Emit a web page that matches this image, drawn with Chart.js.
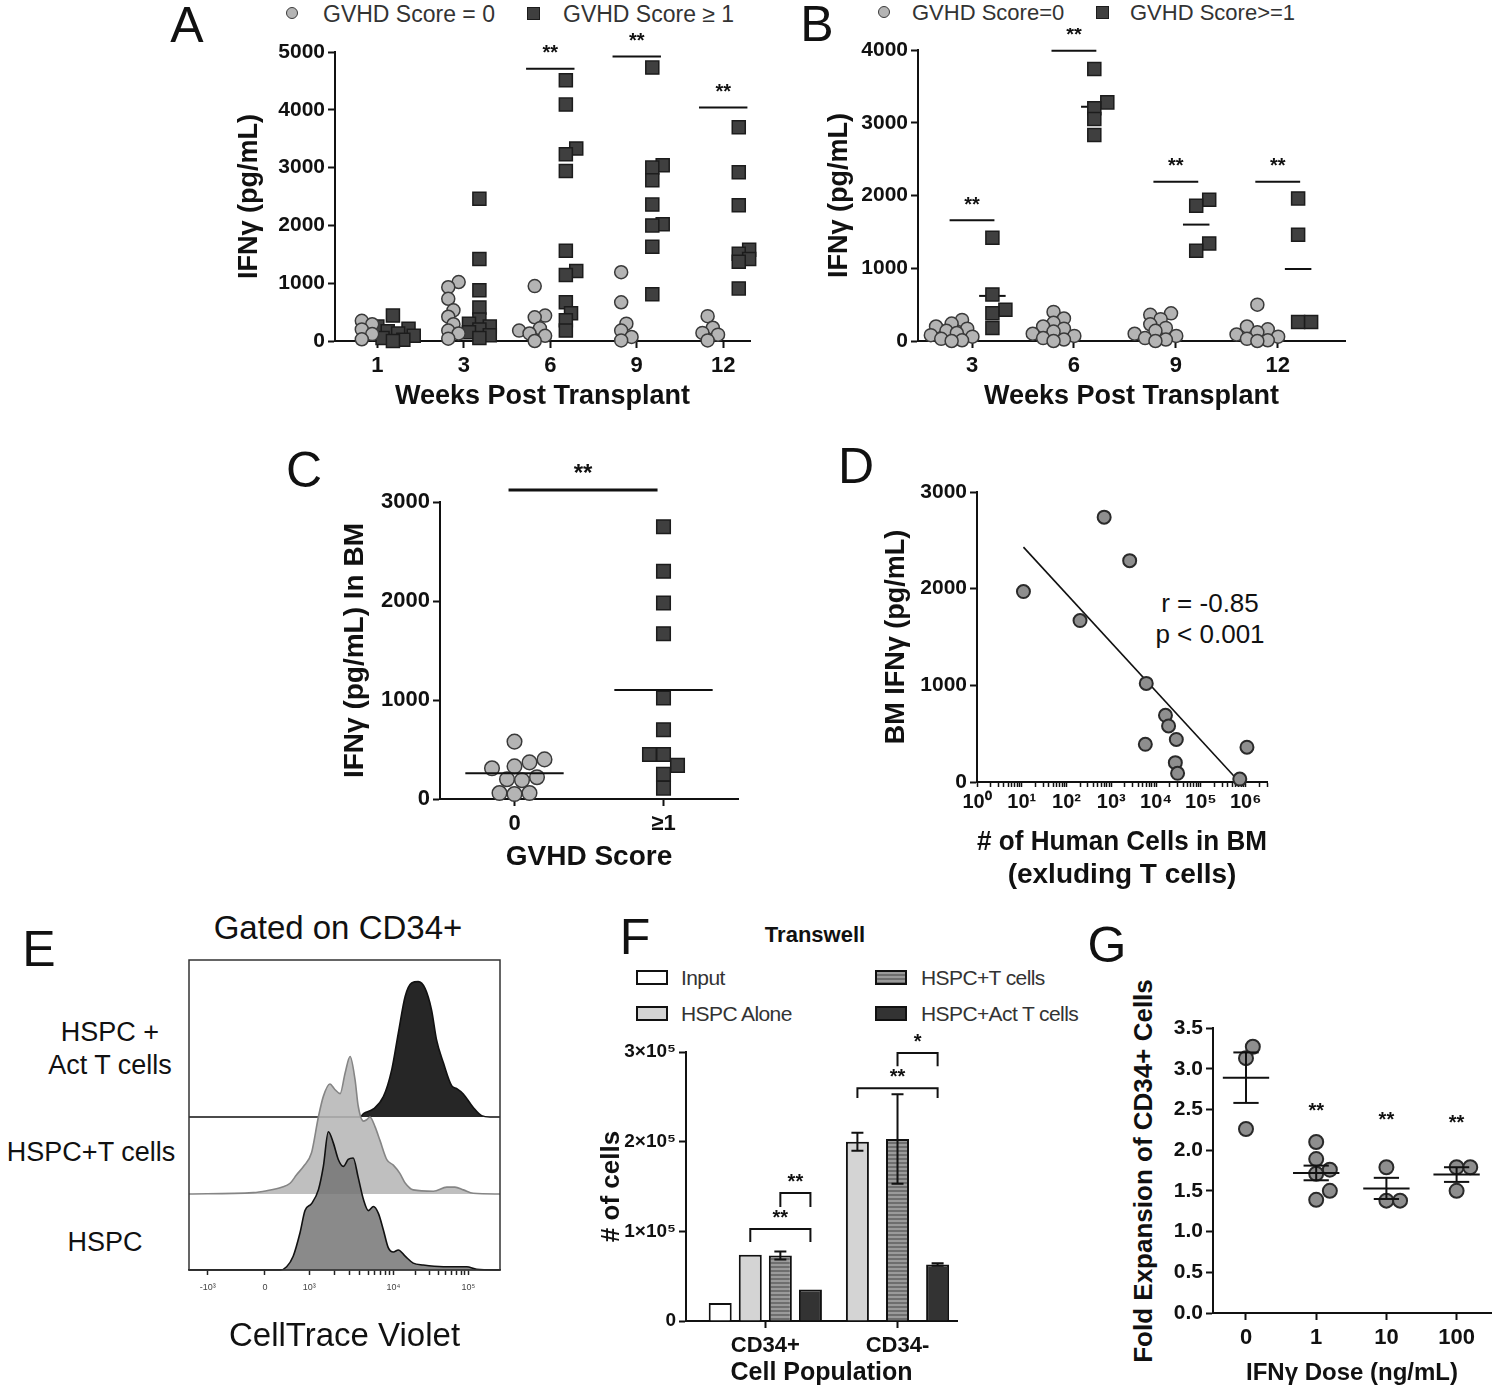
<!DOCTYPE html>
<html><head><meta charset="utf-8">
<script src="https://cdn.jsdelivr.net/npm/chart.js@4.4.1/dist/chart.umd.min.js"></script>
<style>
html,body{margin:0;padding:0;background:#fff;}
#fig{position:relative;width:1500px;height:1394px;overflow:hidden;background:#fff;font-family:'Liberation Sans',Arial,sans-serif;color:#111;}
canvas{position:absolute;}
.t{position:absolute;white-space:nowrap;line-height:1;transform:translate(-50%,-50%);}
.tl{position:absolute;white-space:nowrap;line-height:1;transform:translate(0,-50%);}
.rot{position:absolute;white-space:nowrap;line-height:1;transform:translate(-50%,-50%) rotate(-90deg);font-weight:bold;}
.lbl{font-size:50px;}
.leg{font-size:23px;color:#333;}
.mk{position:absolute;box-sizing:border-box;}
.circ{width:12px;height:12px;border-radius:50%;background:#b4b4b4;border:1.5px solid #3a3a3a;}
.sq{width:13px;height:13px;background:#3f3f3f;border:1.5px solid #1c1c1c;}
.fbox{position:absolute;width:32px;height:15px;box-sizing:border-box;border:2px solid #111;}
.fleg{font-size:21px;color:#333;letter-spacing:-0.6px;}
</style></head>
<body><div id="fig">
<div class="t lbl" style="left:187px;top:25px">A</div>
<div class="t lbl" style="left:817px;top:24px">B</div>
<div class="t lbl" style="left:304px;top:470px">C</div>
<div class="t lbl" style="left:856px;top:466px">D</div>
<div class="t lbl" style="left:39px;top:949px">E</div>
<div class="t lbl" style="left:635px;top:937px">F</div>
<div class="t lbl" style="left:1107px;top:945px">G</div>

<div class="mk circ" style="left:286px;top:7px"></div>
<div class="tl leg" style="left:323px;top:14px">GVHD Score = 0</div>
<div class="mk sq" style="left:527px;top:7px"></div>
<div class="tl leg" style="left:563px;top:14px">GVHD Score ≥ 1</div>

<div class="mk circ" style="left:878px;top:6px"></div>
<div class="tl leg" style="left:912px;top:13px;font-size:22px">GVHD Score=0</div>
<div class="mk sq" style="left:1096px;top:6px"></div>
<div class="tl leg" style="left:1130px;top:13px;font-size:22px">GVHD Score&gt;=1</div>

<div class="t" style="left:1210px;top:603px;font-size:26px">r = -0.85</div>
<div class="t" style="left:1210px;top:634px;font-size:26px">p &lt; 0.001</div>

<div class="t" style="left:338px;top:927px;font-size:33px">Gated on CD34+</div>
<div class="t" style="left:110px;top:1032px;font-size:27px">HSPC +</div>
<div class="t" style="left:110px;top:1065px;font-size:27px">Act T cells</div>
<div class="t" style="left:91px;top:1152px;font-size:27px">HSPC+T cells</div>
<div class="t" style="left:105px;top:1242px;font-size:27px">HSPC</div>

<div class="t" style="left:815px;top:935px;font-size:22px;font-weight:bold">Transwell</div>
<div class="fbox" style="left:636px;top:970px;background:#fff"></div>
<div class="tl fleg" style="left:681px;top:977px">Input</div>
<div class="fbox" style="left:636px;top:1006px;background:#d4d4d4"></div>
<div class="tl fleg" style="left:681px;top:1013px">HSPC Alone</div>
<div class="fbox" style="left:875px;top:970px;background:repeating-linear-gradient(#9a9a9a 0 2px,#6e6e6e 2px 4px)"></div>
<div class="tl fleg" style="left:921px;top:977px">HSPC+T cells</div>
<div class="fbox" style="left:875px;top:1006px;background:#333"></div>
<div class="tl fleg" style="left:921px;top:1013px">HSPC+Act T cells</div>

<div class="rot" style="left:1143px;top:1171px;font-size:26px">Fold Expansion of CD34+ Cells</div>

<canvas id="cA"></canvas><canvas id="cB"></canvas><canvas id="cC"></canvas><canvas id="cD"></canvas>
<canvas id="cE"></canvas><canvas id="cF"></canvas><canvas id="cG"></canvas>
</div>
<script>
// ================= DATA =================
// Panel A: IFNγ (pg/mL) by week post transplant
const A_WEEKS = ['1', '3', '6', '9', '12'];
const A_SCORE0 = [
  [350, 290, 200, 120, 30],
  [1020, 930, 730, 530, 420, 290, 180, 130, 40],
  [950, 440, 410, 220, 180, 130, 90, 0],
  [1190, 670, 300, 180, 70, 10],
  [430, 230, 140, 110, 10]
];
const A_SCORE1 = [
  [440, 250, 210, 170, 130, 90, 50, 20, 0],
  [2460, 1420, 880, 580, 370, 300, 250, 200, 150, 100, 50],
  [4510, 4090, 3330, 3230, 2940, 1560, 1210, 1140, 670, 480, 360, 180],
  [4730, 3040, 3000, 2780, 2360, 2020, 2000, 1630, 810],
  [3700, 2920, 2350, 1580, 1510, 1420, 1370, 910]
];
const A_SIG_INDEX = [2, 3, 4];
const A_SIG_Y = [4710, 4920, 4040];
const A_SIG_TEXT = ['**', '**', '**'];

// Panel B
const B_WEEKS = ['3', '6', '9', '12'];
const B_SCORE0 = [
  [290, 240, 200, 170, 140, 110, 80, 60, 30, 10, 0],
  [400, 310, 250, 200, 170, 130, 100, 70, 40, 20, 0],
  [380, 360, 300, 230, 180, 140, 100, 70, 40, 20, 0],
  [500, 200, 160, 120, 90, 60, 30, 10, 0]
];
const B_SCORE1 = [
  [1420, 640, 430, 380, 180],
  [3740, 3280, 3200, 3050, 2830],
  [1940, 1860, 1340, 1240],
  [1960, 1460, 260, 260]
];
const B_MEAN1 = [620, 3220, 1600, 990];
const B_SIG_Y = [1660, 3990, 2190, 2190];
const B_SIG_TEXT = ['**', '**', '**', '**'];

// Panel C
const C_GROUPS = ['0', '≥1'];
const C_VALUES = [
  [580, 400, 330, 310, 370, 200, 190, 220, 60, 50, 60],
  [2750, 2300, 1980, 1670, 1020, 700, 450, 450, 340, 250, 110]
];
const C_MEANS = [260, 1100];
const C_SIG_Y = 3120;

// Panel D
const D_CELLS = [10.9, 692, 2570, 200, 6030, 5750, 16200, 19000, 28300, 26900, 30200, 740000, 1070000];
const D_IFNG = [1970, 2740, 2290, 1670, 1020, 390, 690, 580, 440, 200, 90, 30, 360];
const D_FIT_CELLS = [10.9, 660000];
const D_FIT_IFNG = [2430, 20];

// Panel E: CellTrace Violet histograms (channel 0-1000, % of modal count)
const E_ACT_X = [0, 550, 561, 593, 625, 652, 673, 695, 716, 737, 759, 780, 796, 818, 845, 861, 882, 914, 941, 968, 1000];
const E_ACT_Y = [0, 0, 2.5, 6, 15, 35, 62, 89, 99, 100, 95, 79, 57, 40, 23, 21, 17, 7, 1, 0, 0];
const E_T_X = [0, 207, 250, 298, 325, 346, 368, 394, 416, 432, 453, 469, 486, 502, 518, 534, 544, 561, 571, 582, 598, 614, 636, 657, 678, 695, 721, 786, 829, 855, 882, 914, 1000];
const E_T_Y = [0, 1, 2.4, 4.9, 7.8, 14, 20, 30, 56, 71, 80, 76, 73, 88, 100, 83, 64, 53, 54, 56, 49, 39, 25, 21, 15, 8, 3, 2, 5, 5, 3, 0.5, 0];
const E_HSPC_X = [0, 293, 314, 335, 357, 373, 394, 416, 432, 448, 464, 480, 496, 512, 528, 544, 561, 577, 593, 609, 625, 641, 657, 673, 695, 721, 753, 818, 893, 925, 1000];
const E_HSPC_Y = [0, 0, 2.4, 10, 27, 43, 48, 58, 75, 100, 92, 80, 75, 80, 81, 67, 51, 43, 46, 41, 29, 16, 13, 14.5, 10, 5, 3.6, 2.4, 2.4, 0.5, 0];
const E_TICK_VALUES = [60, 244, 387, 657, 898];
const E_TICK_LABELS = ['-10³', '0', '10³', '10⁴', '10⁵'];

// Panel F
const F_CATS = ['CD34+', 'CD34-'];
const F_SERIES = ['Input', 'HSPC Alone', 'HSPC+T cells', 'HSPC+Act T cells'];
const F_INPUT = [20000, null];
const F_ALONE = [74000, 200000];
const F_HSPC_T = [73000, 203000];
const F_ACT_T = [35000, 63000];
const F_INPUT_SEM = [0, 0];
const F_ALONE_SEM = [0, 10000];
const F_HSPC_T_SEM = [4500, 50000];
const F_ACT_T_SEM = [0, 1500];
const F_BR_CAT = [0, 0, 1, 1];
const F_BR_FROM = [1, 2, 1, 2];
const F_BR_TO = [3, 3, 3, 3];
const F_BR_Y = [102600, 142700, 259700, 298800];
const F_BR_LEG = [88000, 127000, 248600, 284000];
const F_BR_TEXT = ['**', '**', '**', '*'];

// Panel G
const G_DOSES = ['0', '1', '10', '100'];
const G_VALUES = [
  [3.27, 3.13, 2.26],
  [2.10, 1.89, 1.76, 1.71, 1.50, 1.39],
  [1.79, 1.38, 1.38],
  [1.79, 1.79, 1.50]
];
const G_MEANS = [2.89, 1.72, 1.53, 1.70];
const G_SEM = [0.31, 0.09, 0.13, 0.09];
const G_SIG_Y = [null, 2.48, 2.37, 2.33];
const G_SIG_TEXT = ['', '**', '**', '**'];

// ================= LAYOUT =================
const LA = {canvas:{x:225,y:28,w:545,h:387}, area:{l:335,t:52,r:750,b:341}, x:[0.51,5.31], y:[0,5000], yTitleX:250, xTitleY:397};
const LB = {canvas:{x:808,y:28,w:557,h:387}, area:{l:918,t:50,r:1345,b:341}, x:[0.47,4.66], y:[0,4000], yTitleX:840, xTitleY:397};
const LC = {canvas:{x:330,y:455,w:430,h:425}, area:{l:440,t:502,r:738,b:799}, x:[-0.5,1.5], y:[0,3000], yTitleX:355, xTitleY:857};
const LD = {canvas:{x:870,y:470,w:420,h:425}, area:{l:977,t:492,r:1267,b:782}, x:[1,3e6], y:[0,3000], yTitleX:897, xTitleY:842};
const LE = {canvas:{x:170,y:945,w:345,h:415}, area:{l:189,t:960,r:500,b:1270}, x:[0,1000], xTitleY:1337};
const LF = {canvas:{x:590,y:1020,w:385,h:374}, area:{l:686,t:1052,r:957,b:1321}, x:[0.40,2.45], y:[0,300000], yTitleX:612, xTitleY:1373};
const LG = {canvas:{x:1160,y:990,w:340,h:404}, area:{l:1213,t:1028,r:1498,b:1313}, x:[-0.47,3.49], y:[0,3.5], xTitleY:1373};

// ================= HELPERS =================
const FONT = "'Liberation Sans', Arial, sans-serif";
Chart.defaults.font.family = FONT;
Chart.defaults.color = '#111';
Chart.defaults.animation = false;
Chart.defaults.plugins.legend.display = false;
Chart.defaults.plugins.tooltip.enabled = false;
const SUP = {'0':'⁰','1':'¹','2':'²','3':'³','4':'⁴','5':'⁵','6':'⁶'};

function setupCanvas(id, L) {
  const el = document.getElementById(id);
  el.width = L.canvas.w; el.height = L.canvas.h;
  el.style.left = L.canvas.x + 'px'; el.style.top = L.canvas.y + 'px';
  return el;
}
function layoutOf(L, leftPad) {
  const c = L.canvas, a = L.area;
  return {padding:{top:a.t - c.y, right:c.x + c.w - a.r, bottom:0, left:leftPad ? a.l - c.x : 0}};
}
const yW = L => L.area.l - L.canvas.x;
const xH = L => L.canvas.y + L.canvas.h - L.area.b;
function yTitle(L, text, size) {
  if (!text) return {display:false};
  const lh = 1.2;
  return {display:true, text, color:'#111', font:{size, weight:'bold', lineHeight:lh}, padding:{top:L.yTitleX - L.canvas.x - size*lh/2, bottom:0}};
}
function xTitle(L, text, size, lh, weight) {
  lh = lh || 1.2;
  const n = Array.isArray(text) ? text.length : 1;
  return {display:true, text, color:'#111', font:{size, weight:weight || 'bold', lineHeight:lh},
    padding:{top:0, bottom:L.canvas.y + L.canvas.h - L.xTitleY - size*lh/2 - size*lh*(n-1)}};
}
function axis(extra) {
  return Object.assign({
    border:{display:true, color:'#111', width:2},
    grid:{display:true, drawOnChartArea:false, drawTicks:true, tickLength:7, tickColor:'#111', tickWidth:2, offset:false}
  }, extra);
}
function tickFont(size) { return {size, weight:'bold'}; }
function pxPer(L) {
  return {x:(L.area.r - L.area.l)/(L.x[1] - L.x[0]), y:(L.area.b - L.area.t)/(L.y[1] - L.y[0])};
}
// beeswarm arrangement of a column of values (returns x offsets in axis units)
function swarm(vals, L, d, thr, step) {
  const p = pxPer(L);
  const order = vals.map((_, i) => i).sort((a, b) => vals[a] - vals[b]);
  const placed = [], off = new Array(vals.length).fill(0);
  for (const i of order) {
    const yp = vals[i] * p.y;
    for (let k = 0; k < 80; k++) {
      const c = k === 0 ? 0 : (k % 2 ? 1 : -1) * Math.ceil(k / 2) * d * step;
      if (placed.every(q => Math.hypot(q.x - c, q.y - yp) >= d * thr)) { placed.push({x:c, y:yp}); off[i] = c / p.x; break; }
    }
  }
  return off;
}
function columnPoints(groups, L, centerOf, shift, d, thr, step) {
  return groups.flatMap((vals, i) => {
    const o = swarm(vals, L, d, thr || 0.95, step || 0.5);
    return vals.map((v, j) => ({x:centerOf(i) + shift + o[j], y:v}));
  });
}
function annot(id, cfg) {
  function lines(chart, list) {
    if (!list) return;
    const {ctx, scales:{x, y}} = chart;
    ctx.save(); ctx.strokeStyle = '#111'; ctx.lineCap = 'butt';
    for (const l of list) {
      ctx.lineWidth = l.w || 2;
      ctx.beginPath();
      ctx.moveTo(x.getPixelForValue(l.x1), y.getPixelForValue(l.y1));
      ctx.lineTo(x.getPixelForValue(l.x2), y.getPixelForValue(l.y2 === undefined ? l.y1 : l.y2));
      ctx.stroke();
    }
    ctx.restore();
  }
  return {
    id,
    beforeDatasetsDraw(chart) { lines(chart, cfg.under); },
    afterDatasetsDraw(chart) {
      lines(chart, cfg.lines);
      const {ctx, scales:{x, y}} = chart;
      ctx.save(); ctx.fillStyle = '#111'; ctx.textAlign = 'center'; ctx.textBaseline = 'middle';
      for (const t of (cfg.texts || [])) {
        ctx.font = 'bold ' + (t.size || 20) + 'px ' + FONT;
        ctx.fillText(t.text, x.getPixelForValue(t.x), y.getPixelForValue(t.y) + (t.dy || 0));
      }
      ctx.restore();
    }
  };
}
const CIRCLE = {pointStyle:'circle', pointRadius:6.5, backgroundColor:'#b4b4b4', borderColor:'#3a3a3a', pointBackgroundColor:'#b4b4b4', pointBorderColor:'#3a3a3a', pointBorderWidth:1.5, clip:false};
const SQUARE = {pointStyle:'rect', pointRadius:9.2, backgroundColor:'#3f3f3f', borderColor:'#1c1c1c', pointBackgroundColor:'#3f3f3f', pointBorderColor:'#1c1c1c', pointBorderWidth:1.5, clip:false};
const MIDCIRCLE = {pointStyle:'circle', pointRadius:7, backgroundColor:'#8e8e8e', borderColor:'#2a2a2a', pointBackgroundColor:'#8e8e8e', pointBorderColor:'#2a2a2a', pointBorderWidth:2, clip:false};

function categoryX(L, labels, size, pad, base) {
  return axis({type:'linear', min:L.x[0], max:L.x[1], offset:false,
    afterFit: s => { s.height = xH(L); },
    afterBuildTicks: s => { s.ticks = labels.map((_, i) => ({value:i + base})); },
    ticks:{font:tickFont(size), color:'#111', padding:pad, autoSkip:false, maxRotation:0,
      callback: v => labels[Math.round(v) - base]}
  });
}
function valueY(L, step, size, titleText, titleSize, cb) {
  const ticks = {font:tickFont(size), color:'#111', padding:3, stepSize:step, callback: cb || (v => String(v))};
  return axis({type:'linear', min:L.y[0], max:L.y[1], afterFit: s => { s.width = yW(L); }, ticks, title:yTitle(L, titleText, titleSize)});
}

// ================= PANEL A =================
new Chart(setupCanvas('cA', LA), {
  type:'scatter',
  data:{datasets:[
    Object.assign({label:'GVHD Score = 0', data:columnPoints(A_SCORE0, LA, i => i + 1, -0.18, 13, 0.62, 0.4)}, CIRCLE),
    Object.assign({label:'GVHD Score ≥ 1', data:columnPoints(A_SCORE1, LA, i => i + 1, 0.18, 13, 0.62, 0.4)}, SQUARE)
  ]},
  options:{responsive:false, devicePixelRatio:1, layout:layoutOf(LA),
    scales:{
      x:Object.assign(categoryX(LA, A_WEEKS, 22, 5, 1), {title:xTitle(LA, 'Weeks Post Transplant', 27)}),
      y:valueY(LA, 1000, 21, 'IFNγ (pg/mL)', 27)
    }},
  plugins:[annot('annotA', {
    lines:A_SIG_INDEX.map((c, k) => ({x1:c + 1 - 0.28, x2:c + 1 + 0.28, y1:A_SIG_Y[k]})),
    texts:A_SIG_INDEX.map((c, k) => ({x:c + 1, y:A_SIG_Y[k], dy:-15, text:A_SIG_TEXT[k]}))
  })]
});

// ================= PANEL B =================
new Chart(setupCanvas('cB', LB), {
  type:'scatter',
  data:{datasets:[
    Object.assign({label:'GVHD Score=0', data:columnPoints(B_SCORE0, LB, i => i + 1, -0.2, 13, 0.62, 0.4)}, CIRCLE),
    Object.assign({label:'GVHD Score>=1', data:columnPoints(B_SCORE1, LB, i => i + 1, 0.2, 13, 0.8, 0.5)}, SQUARE)
  ]},
  options:{responsive:false, devicePixelRatio:1, layout:layoutOf(LB),
    scales:{
      x:Object.assign(categoryX(LB, B_WEEKS, 22, 5, 1), {title:xTitle(LB, 'Weeks Post Transplant', 27)}),
      y:valueY(LB, 1000, 21, 'IFNγ (pg/mL)', 27)
    }},
  plugins:[annot('annotB', {
    under:B_MEAN1.map((v, c) => ({x1:c + 1.2 - 0.13, x2:c + 1.2 + 0.13, y1:v})),
    lines:B_SIG_Y.map((v, c) => ({x1:c + 1 - 0.22, x2:c + 1 + 0.22, y1:v})),
    texts:B_SIG_Y.map((v, c) => ({x:c + 1, y:v, dy:-15, text:B_SIG_TEXT[c]}))
  })]
});

// ================= PANEL C =================
new Chart(setupCanvas('cC', LC), {
  type:'scatter',
  data:{datasets:[
    Object.assign({label:'GVHD Score 0', data:columnPoints([C_VALUES[0]], LC, () => 0, 0, 15)}, CIRCLE, {pointRadius:7.3}),
    Object.assign({label:'GVHD Score ≥1', data:columnPoints([C_VALUES[1]], LC, () => 1, 0, 14)}, SQUARE, {pointRadius:9.6})
  ]},
  options:{responsive:false, devicePixelRatio:1, layout:layoutOf(LC),
    scales:{
      x:Object.assign(categoryX(LC, C_GROUPS, 22, 5, 0), {title:xTitle(LC, 'GVHD Score', 28)}),
      y:valueY(LC, 1000, 22, 'IFNγ (pg/mL) In BM', 28)
    }},
  plugins:[annot('annotC', {
    lines:[
      {x1:-0.04, x2:0.96, y1:C_SIG_Y, w:3},
      ...C_MEANS.map((v, c) => ({x1:c - 0.33, x2:c + 0.33, y1:v}))
    ],
    texts:[{x:0.46, y:C_SIG_Y, dy:-16, text:'**', size:24}]
  })]
});

// ================= PANEL D =================
new Chart(setupCanvas('cD', LD), {
  type:'scatter',
  data:{datasets:[
    Object.assign({label:'BM', data:D_CELLS.map((x, i) => ({x, y:D_IFNG[i]}))}, MIDCIRCLE, {pointRadius:6.5}),
    {label:'fit', data:D_FIT_CELLS.map((x, i) => ({x, y:D_FIT_IFNG[i]})), showLine:true, pointRadius:0, borderColor:'#111', borderWidth:1.6}
  ]},
  options:{responsive:false, devicePixelRatio:1, layout:layoutOf(LD),
    scales:{
      x:axis({type:'logarithmic', min:LD.x[0], max:LD.x[1],
        grid:{display:true, drawOnChartArea:false, drawTicks:true, tickLength:5, tickColor:'#111', tickWidth:1.5},
        afterFit: s => { s.height = xH(LD); },
        afterBuildTicks: s => {
          const t = [];
          for (let d = 0; d <= 6; d++) for (let m = 1; m <= 9; m++) { const v = m * Math.pow(10, d); if (v <= s.max) t.push({value:v, major:m === 1}); }
          s.ticks = t;
        },
        ticks:{font:tickFont(20), color:'#111', padding:3, autoSkip:false, maxRotation:0,
          callback: v => { const l = Math.log10(v); return Math.abs(l - Math.round(l)) < 1e-9 ? '10' + SUP[String(Math.round(l))] : ''; }},
        title:xTitle(LD, ['# of Human Cells in BM', '(exluding T cells)'], 28, 1.18)
      }),
      y:valueY(LD, 1000, 21, 'BM IFNγ (pg/mL)', 27)
    }}
});

// ================= PANEL E =================
const frameE = {id:'frameE', afterDatasetsDraw(chart) {
  const {ctx, chartArea:a} = chart;
  ctx.save(); ctx.strokeStyle = '#333'; ctx.lineWidth = 1.5;
  ctx.strokeRect(a.left, a.top, a.right - a.left, a.bottom - a.top); ctx.restore();
}};
const zip = (xs, ys) => xs.map((x, i) => ({x, y:ys[i]}));
new Chart(setupCanvas('cE', LE), {
  type:'line',
  data:{datasets:[
    {label:'HSPC + Act T cells', data:zip(E_ACT_X, E_ACT_Y), yAxisID:'yTop', fill:'origin', backgroundColor:'#262626', borderColor:'#111', borderWidth:1.6, order:2, clip:false},
    {label:'HSPC+T cells', data:zip(E_T_X, E_T_Y), yAxisID:'yMid', fill:'origin', backgroundColor:'rgba(182,182,182,0.88)', borderColor:'#858585', borderWidth:1.6, order:1, clip:false},
    {label:'HSPC', data:zip(E_HSPC_X, E_HSPC_Y), yAxisID:'yBot', fill:'origin', backgroundColor:'rgba(118,118,118,0.85)', borderColor:'#111', borderWidth:1.6, order:0, clip:false}
  ]},
  options:{responsive:false, devicePixelRatio:1, layout:layoutOf(LE, true),
    elements:{point:{radius:0}, line:{cubicInterpolationMode:'monotone'}},
    scales:{
      x:axis({type:'linear', min:LE.x[0], max:LE.x[1],
        border:{display:true, color:'#222', width:1.5},
        grid:{display:true, drawOnChartArea:false, drawTicks:true, tickLength:5, tickColor:'#222', tickWidth:1.5},
        afterFit: s => { s.height = xH(LE); },
        afterBuildTicks: s => {
          const t = E_TICK_VALUES.map(v => ({value:v}));
          for (let k = 2; k < E_TICK_VALUES.length - 1; k++) {
            const a = E_TICK_VALUES[k], b = E_TICK_VALUES[k + 1];
            for (let m = 2; m <= 9; m++) t.push({value:a + Math.log10(m) * (b - a)});
          }
          s.ticks = t.sort((p, q) => p.value - q.value);
        },
        ticks:{font:{size:9}, color:'#444', padding:7, autoSkip:false, maxRotation:0,
          callback: v => { const i = E_TICK_VALUES.indexOf(v); return i >= 0 ? E_TICK_LABELS[i] : ''; }},
        title:xTitle(LE, 'CellTrace Violet', 33, 1.2, 'normal')
      }),
      yTop:{type:'linear', position:'right', stack:'rows', stackWeight:157, weight:0, min:0, max:116, display:false},
      yMid:{type:'linear', position:'right', stack:'rows', stackWeight:77, weight:1, min:0, max:56, display:false},
      yBot:{type:'linear', position:'right', stack:'rows', stackWeight:76, weight:2, min:0, max:55, display:false}
    }},
  plugins:[frameE]
});

// ================= PANEL F =================
function stripes() {
  const c = document.createElement('canvas'); c.width = 6; c.height = 4;
  const x = c.getContext('2d');
  x.fillStyle = '#6e6e6e'; x.fillRect(0, 0, 6, 4);
  x.fillStyle = '#9a9a9a'; x.fillRect(0, 0, 6, 2);
  return x.createPattern(c, 'repeat');
}
const F_VALUES = [F_INPUT, F_ALONE, F_HSPC_T, F_ACT_T];
const F_SEMS = [F_INPUT_SEM, F_ALONE_SEM, F_HSPC_T_SEM, F_ACT_T_SEM];
const F_FILLS = ['#ffffff', '#d4d4d4', stripes(), '#333333'];
const fPlugin = {id:'fAnnot', afterDatasetsDraw(chart) {
  const {ctx, scales:{y}} = chart;
  ctx.save(); ctx.strokeStyle = '#111'; ctx.lineWidth = 2;
  F_VALUES.forEach((vals, di) => vals.forEach((v, ci) => {
    const s = F_SEMS[di][ci];
    if (v === null || !s) return;
    const x = chart.getDatasetMeta(di).data[ci].x;
    const y1 = y.getPixelForValue(v - s), y2 = y.getPixelForValue(v + s);
    ctx.beginPath(); ctx.moveTo(x, y1); ctx.lineTo(x, y2);
    ctx.moveTo(x - 6, y1); ctx.lineTo(x + 6, y1); ctx.moveTo(x - 6, y2); ctx.lineTo(x + 6, y2); ctx.stroke();
  }));
  ctx.fillStyle = '#111'; ctx.textAlign = 'center'; ctx.textBaseline = 'middle'; ctx.font = 'bold 20px ' + FONT;
  F_BR_CAT.forEach((c, k) => {
    const x1 = chart.getDatasetMeta(F_BR_FROM[k]).data[c].x, x2 = chart.getDatasetMeta(F_BR_TO[k]).data[c].x;
    const yt = y.getPixelForValue(F_BR_Y[k]), yl = y.getPixelForValue(F_BR_LEG[k]);
    ctx.beginPath(); ctx.moveTo(x1, yl); ctx.lineTo(x1, yt); ctx.lineTo(x2, yt); ctx.lineTo(x2, yl); ctx.stroke();
    ctx.fillText(F_BR_TEXT[k], (x1 + x2) / 2, yt - 11);
  });
  ctx.restore();
}};
new Chart(setupCanvas('cF', LF), {
  type:'bar',
  data:{datasets:F_VALUES.map((vals, di) => ({
    label:F_SERIES[di], data:vals.map((v, ci) => ({x:ci + 1, y:v})),
    backgroundColor:F_FILLS[di], borderColor:'#111', borderWidth:2,
    barPercentage:0.77, categoryPercentage:0.91, maxBarThickness:23, skipNull:true
  }))},
  options:{responsive:false, devicePixelRatio:1, layout:layoutOf(LF),
    scales:{
      x:Object.assign(categoryX(LF, F_CATS, 22, 5, 1), {title:xTitle(LF, 'Cell Population', 25)}),
      y:valueY(LF, 100000, 19, '# of cells', 26, v => v === 0 ? '0' : (v / 100000) + '×10⁵')
    }},
  plugins:[fPlugin]
});

// ================= PANEL G =================
new Chart(setupCanvas('cG', LG), {
  type:'scatter',
  data:{datasets:[
    Object.assign({label:'Fold expansion', data:columnPoints(G_VALUES, LG, i => i, 0, 14)}, MIDCIRCLE)
  ]},
  options:{responsive:false, devicePixelRatio:1, layout:layoutOf(LG),
    scales:{
      x:Object.assign(categoryX(LG, G_DOSES, 22, 5, 0), {title:xTitle(LG, 'IFNγ Dose (ng/mL)', 24)}),
      y:valueY(LG, 0.5, 21, null, 26, v => v.toFixed(1))
    }},
  plugins:[annot('annotG', {
    lines:[
      ...G_MEANS.map((m, i) => ({x1:i - 0.33, x2:i + 0.33, y1:m})),
      ...G_MEANS.map((m, i) => ({x1:i, x2:i, y1:m - G_SEM[i], y2:m + G_SEM[i]})),
      ...G_MEANS.map((m, i) => ({x1:i - 0.18, x2:i + 0.18, y1:m - G_SEM[i]})),
      ...G_MEANS.map((m, i) => ({x1:i - 0.18, x2:i + 0.18, y1:m + G_SEM[i]}))
    ],
    texts:G_SIG_Y.map((v, i) => v === null ? null : {x:i, y:v, text:G_SIG_TEXT[i], size:20}).filter(Boolean)
  })]
});
</script>
</body></html>
